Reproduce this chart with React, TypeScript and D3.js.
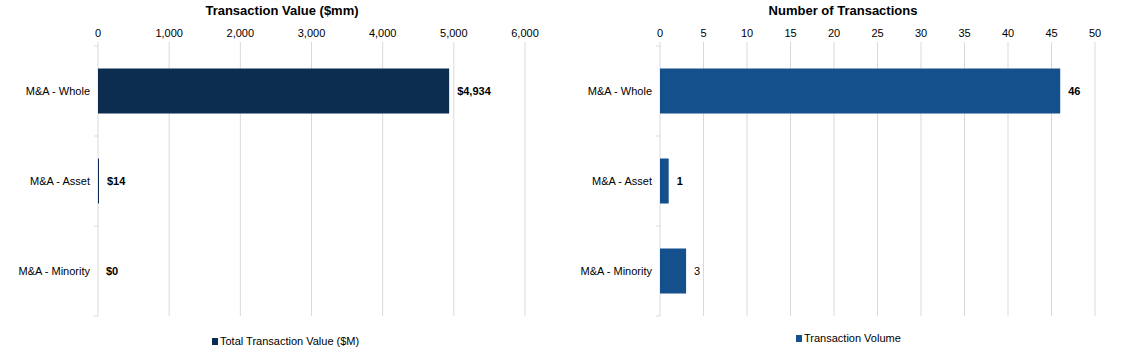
import React from "react";
import * as d3 from "d3";

const categories = ["M&A - Whole", "M&A - Asset", "M&A - Minority"];
const valueSeries = [4934, 14, 0];
const valueLabels = ["$4,934", "$14", "$0"];
const valueTicks = [0, 1000, 2000, 3000, 4000, 5000, 6000];
const countSeries = [46, 1, 3];
const countLabels = ["46", "1", "3"];
const countLabelBold = [true, true, false];
const countTicks = [0, 5, 10, 15, 20, 25, 30, 35, 40, 45, 50];

const FONT = "'Liberation Sans', Arial, sans-serif";

type PanelProps = {
  title: string;
  values: number[];
  labels: string[];
  bold: boolean[];
  ticks: number[];
  max: number;
  x0: number;
  x1: number;
  color: string;
  titleX: number;
  legend: string;
  legendX: number;
  legendY: number;
  labelX: number;
};

function Panel(p: PanelProps) {
  const top = 46;
  const bottom = 316;
  const x = d3.scaleLinear().domain([0, p.max]).range([p.x0, p.x1]);
  const y = d3.scaleBand<string>().domain(categories).range([top, bottom]).paddingInner(0.5).paddingOuter(0.25);
  const fmt = d3.format(",");
  const bandStep = y.step();
  return (
    <g fontFamily={FONT}>
      <text x={p.titleX} y={15} textAnchor="middle" fontSize={13} fontWeight="bold" fill="#000">
        {p.title}
      </text>
      {p.ticks.map((t) => (
        <g key={t}>
          <text x={x(t)} y={37} textAnchor="middle" fontSize={11} fill="#000">
            {fmt(t)}
          </text>
          <line x1={x(t)} x2={x(t)} y1={top - 4} y2={bottom} stroke="#d9d9d9" strokeWidth={1} />
        </g>
      ))}
      {[0, 1, 2, 3].map((i) => (
        <line key={i} x1={p.x0 - 4} x2={p.x0} y1={top + i * bandStep} y2={top + i * bandStep} stroke="#d9d9d9" />
      ))}
      {categories.map((c, i) => (
        <g key={c}>
          <rect
            x={x(0)}
            y={y(c)!}
            width={Math.max(0, x(p.values[i]) - x(0))}
            height={y.bandwidth()}
            fill={p.color}
          />
          <text x={p.labelX} y={y(c)! + y.bandwidth() / 2 + 4} textAnchor="end" fontSize={11} fill="#000">
            {c}
          </text>
          <text
            x={x(p.values[i]) + 8}
            y={y(c)! + y.bandwidth() / 2 + 4}
            fontSize={11}
            fontWeight={p.bold[i] ? "bold" : "normal"}
            fill="#000"
          >
            {p.labels[i]}
          </text>
        </g>
      ))}
      <rect x={p.legendX} y={p.legendY - 7} width={6} height={7} fill={p.color} />
      <text x={p.legendX + 8} y={p.legendY} fontSize={11} fill="#000">
        {p.legend}
      </text>
    </g>
  );
}

export default function App() {
  return (
    <svg
      width={1143}
      height={356}
      style={{ position: "absolute", left: 0, top: 0, background: "#fff" }}
    >
      <rect width={1143} height={356} fill="#fff" />
      <Panel
        title="Transaction Value ($mm)"
        values={valueSeries}
        labels={valueLabels}
        bold={[true, true, true]}
        ticks={valueTicks}
        max={6000}
        x0={98}
        x1={525}
        color="#0c2c50"
        titleX={282}
        legend="Total Transaction Value ($M)"
        legendX={212}
        legendY={345}
        labelX={90}
      />
      <Panel
        title="Number of Transactions"
        values={countSeries}
        labels={countLabels}
        bold={countLabelBold}
        ticks={countTicks}
        max={50}
        x0={660}
        x1={1095}
        color="#14508c"
        titleX={843}
        legend="Transaction Volume"
        legendX={796}
        legendY={342}
        labelX={652}
      />
    </svg>
  );
}
